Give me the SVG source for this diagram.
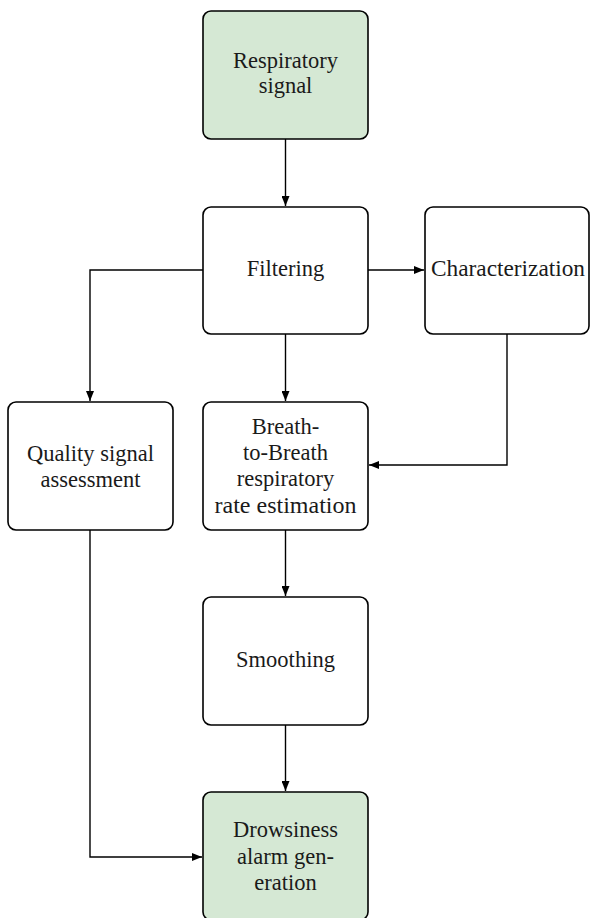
<svg xmlns="http://www.w3.org/2000/svg" width="590" height="918" viewBox="0 0 590 918">
<defs>
<marker id="ah" viewBox="0 0 10 8" refX="10" refY="4" markerWidth="10" markerHeight="8" markerUnits="userSpaceOnUse" orient="auto"><path d="M0,0 L10,4 L0,8 Z" fill="#000"/></marker>
<style>
.box{fill:#fff;stroke:#000;stroke-width:1.6}
.g{fill:#d5e8d4}
.t{font-family:"Liberation Serif","DejaVu Serif",serif;font-size:22.5px;fill:#1a1a1a;text-anchor:middle}
.c{fill:none;stroke:#000;stroke-width:1.4;marker-end:url(#ah)}
</style>
</defs>
<g id="connectors">
<path class="c" d="M285.5,139 V206"/>
<path class="c" d="M368,270 H424"/>
<path class="c" d="M203,270 H90 V401"/>
<path class="c" d="M285.5,334 V401"/>
<path class="c" d="M507,334 V465 H369"/>
<path class="c" d="M285.5,530 V596"/>
<path class="c" d="M285.5,725 V791"/>
<path class="c" d="M90,530 V857 H202"/>
</g>
<g id="respiratory-signal">
<rect class="box g" x="203" y="11" width="165" height="128" rx="8"/>
<text class="t" x="285.5" y="68">Respiratory</text>
<text class="t" x="285.5" y="93">signal</text>
</g>
<g id="filtering">
<rect class="box" x="203" y="207" width="165" height="127" rx="8"/>
<text class="t" x="285.5" y="276">Filtering</text>
</g>
<g id="characterization">
<rect class="box" x="425" y="207" width="164" height="127" rx="8"/>
<text class="t" x="508" y="276" textLength="154" lengthAdjust="spacingAndGlyphs">Characterization</text>
</g>
<g id="quality">
<rect class="box" x="8" y="402" width="165" height="128" rx="8"/>
<text class="t" x="90.5" y="461">Quality signal</text>
<text class="t" x="90.5" y="487">assessment</text>
</g>
<g id="b2b">
<rect class="box" x="203" y="402" width="165" height="128" rx="8"/>
<text class="t" x="285.5" y="434">Breath-</text>
<text class="t" x="285.5" y="460">to-Breath</text>
<text class="t" x="285.5" y="486">respiratory</text>
<text class="t" x="285.5" y="513" textLength="142" lengthAdjust="spacingAndGlyphs">rate estimation</text>
</g>
<g id="smoothing">
<rect class="box" x="203" y="597" width="165" height="128" rx="8"/>
<text class="t" x="285.5" y="667">Smoothing</text>
</g>
<g id="drowsiness">
<rect class="box g" x="203" y="792" width="165" height="128" rx="8"/>
<text class="t" x="285.5" y="837">Drowsiness</text>
<text class="t" x="285.5" y="864">alarm gen-</text>
<text class="t" x="285.5" y="890">eration</text>
</g>
</svg>
